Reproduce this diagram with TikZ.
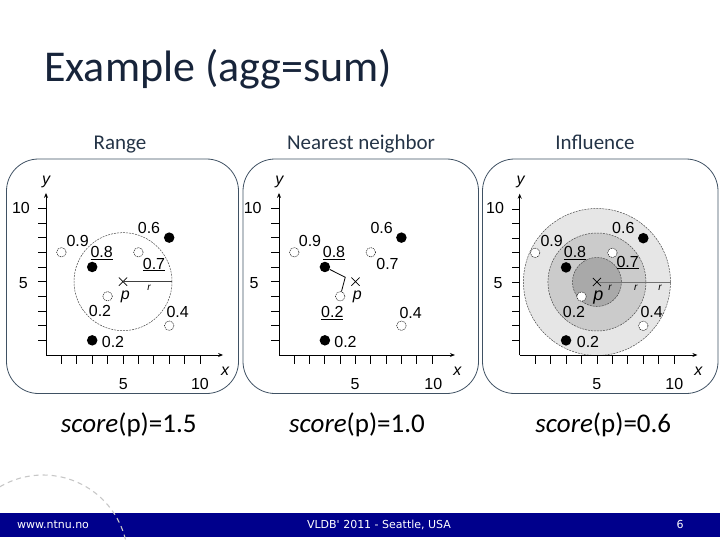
\documentclass[tikz,border=0pt]{standalone}
\usepackage{fontspec}
\setmainfont{Carlito}
\newfontfamily\arialf{Liberation Sans}
\newfontfamily\footf{DejaVu Sans}
\usetikzlibrary{arrows.meta,shapes.misc}
\definecolor{titlecol}{HTML}{17243A}
\definecolor{headcol}{HTML}{243447}
\definecolor{panelcol}{HTML}{3F5163}
\definecolor{barcol}{HTML}{00008C}
\definecolor{ringA}{HTML}{E6E6E6}
\definecolor{ringB}{HTML}{CBCBCB}
\definecolor{ringC}{HTML}{A9A9A9}
\newcommand{\drawplotaxes}{%
  \draw[axisln] (0,0) -- (11.5,0);
  \draw[axisln] (0,0) -- (0,11.05);
  \foreach \i in {1,...,10} {
    \draw[tickln] (\i,0) -- (\i,-0.62);
    \draw[tickln] (0,\i) -- (-0.52,\i);
  }}
\begin{document}
\begin{tikzpicture}[x=1pt,y=-1pt,
  panelbox/.style={draw=panelcol, line width=0.8pt, rounded corners=32pt},
  filleddot/.style={circle, fill=black, inner sep=0pt, minimum size=10.5pt},
  hollowdot/.style={circle, draw=black, fill=white, line width=0.45pt, dash pattern=on 1.2pt off 0.8pt, inner sep=0pt, minimum size=9.5pt},
  lab/.style={font=\arialf\fontsize{16}{18}\selectfont, inner sep=0pt, anchor=base},
  ilab/.style={font=\arialf\itshape\fontsize{16}{18}\selectfont, inner sep=0pt, anchor=base},
  rlab/.style={font=\arialf\itshape\fontsize{10}{11}\selectfont, inner sep=0pt, anchor=base},
  axisln/.style={line width=0.9pt, -{Stealth[length=5pt,width=4pt]}},
  tickln/.style={line width=0.9pt},
  pmark/.style={draw=black, cross out, line width=0.7pt, minimum size=7.5pt, inner sep=0pt},
  rangec/.style={draw=black!70, line width=0.5pt, dash pattern=on 2pt off 1pt},
  head/.style={font=\fontsize{21}{24}\selectfont, text=headcol, inner sep=0pt, anchor=base},
  score/.style={font=\fontsize{27}{30}\selectfont, text=black, inner sep=0pt, anchor=base},
  foot/.style={font=\footf\fontsize{11}{13}\selectfont, text=white, inner sep=0pt}]
\useasboundingbox (0,0) rectangle (720,540);

% title and headers
\node[font=\fontsize{44}{48}\selectfont, text=titlecol, inner sep=0pt, anchor=base west] (title) at (44,82) {Example (agg=sum)};
\node[head] (h1) at (120,149.5) {Range};
\node[head] (h2) at (361,149.5) {Nearest neighbor};
\node[head] (h3) at (595,149.5) {Influence};

% panels
\draw[panelbox] (6.5,159) rectangle (238.5,393.5);
\draw[panelbox] (243,159) rectangle (478.5,393.5);
\draw[panelbox] (482.5,159) rectangle (718,393.5);

% ---------- panel 1: Range ----------
\begin{scope}[shift={(46,355)}, x=15.4pt, y=14.67pt]
  \coordinate (c1) at (5,5);
  \draw[rangec] (c1) circle (49pt);
  \drawplotaxes
  \node[hollowdot] (a1) at (1,7) {};
  \node[hollowdot] (b1) at (6,7) {};
  \node[filleddot] (d1) at (3,6) {};
  \node[filleddot] (e1) at (8,8) {};
  \node[hollowdot] (f1) at (4,4) {};
  \node[hollowdot] (g1) at (8,2) {};
  \node[filleddot] (k1) at (3,1) {};
  \node[pmark] (p1) at (5,5) {};
  \path (c1) ++(49pt,0) coordinate (re1);
  \draw[black!75, line width=0.5pt] (c1) -- (re1);
\end{scope}
\node[lab] (l1a) at (77.7,246) {0.9};
\node[lab] (l1b) at (101.7,257.5) {\underline{0.8}};
\node[lab] (l1c) at (149,233.5) {0.6};
\node[lab] (l1d) at (154,269) {\underline{0.7}};
\node[ilab] (l1p) at (125.3,299) {p};
\node[lab] (l1e) at (100,316.5) {0.2};
\node[lab] (l1f) at (177.7,317) {0.4};
\node[lab] (l1g) at (113,347.5) {0.2};
\node[rlab] (l1r) at (149,290.5) {r};
\node[lab] (l1y10) at (21,214) {10};
\node[lab] (l1y5) at (23.3,288) {5};
\node[lab] (l1x5) at (123.3,389) {5};
\node[lab] (l1x10) at (200,389) {10};
\node[ilab] (l1y) at (46,185) {y};
\node[ilab] (l1x) at (225,375) {x};

% ---------- panel 2: Nearest neighbor ----------
\begin{scope}[shift={(279,355)}, x=15.3pt, y=14.67pt]
  \drawplotaxes
  \node[hollowdot] (a2) at (1,7) {};
  \node[hollowdot] (b2) at (6,7) {};
  \node[filleddot] (d2) at (3,6) {};
  \node[filleddot] (e2) at (8,8) {};
  \node[hollowdot] (f2) at (4,4) {};
  \node[hollowdot] (g2) at (8,2) {};
  \node[filleddot] (k2) at (3,1) {};
  \node[pmark] (p2) at (5,5) {};
  \coordinate (j2) at (4.33,5.3);
  \draw[line width=0.8pt] (d2) -- (j2) -- (f2);
\end{scope}
\node[lab] (l2a) at (310,246) {0.9};
\node[lab] (l2b) at (334,257.5) {\underline{0.8}};
\node[lab] (l2c) at (381.7,233.5) {0.6};
\node[lab] (l2d) at (387.5,269) {0.7};
\node[ilab] (l2p) at (357.3,299) {p};
\node[lab] (l2e) at (332.3,317.5) {\underline{0.2}};
\node[lab] (l2f) at (410.7,318) {0.4};
\node[lab] (l2g) at (345.5,347.5) {0.2};
\node[lab] (l2y10) at (252.7,214) {10};
\node[lab] (l2y5) at (254,288) {5};
\node[lab] (l2x5) at (355,389) {5};
\node[lab] (l2x10) at (433.3,389) {10};
\node[ilab] (l2y) at (279.3,185) {y};
\node[ilab] (l2x) at (457.3,375) {x};

% ---------- panel 3: Influence ----------
\begin{scope}[shift={(519.7,355)}, x=15.45pt, y=14.6pt]
  \coordinate (c3) at (5,5);
  \draw[rangec, fill=ringA] (c3) circle (73.5pt);
  \draw[rangec, fill=ringB] (c3) circle (49pt);
  \draw[rangec, fill=ringC] (c3) circle (24.5pt);
  \drawplotaxes
  \path (c3) ++(74pt,0) coordinate (re3);
  \draw[black!55, line width=0.6pt] (c3) -- (re3);
  \node[hollowdot] (a3) at (1,7) {};
  \node[hollowdot] (b3) at (6,7) {};
  \node[filleddot] (d3) at (3,6) {};
  \node[filleddot] (e3) at (8,8) {};
  \node[hollowdot] (f3) at (4,4) {};
  \node[hollowdot] (g3) at (8,2) {};
  \node[filleddot] (k3) at (3,1) {};
  \node[pmark] (p3) at (5,5) {};
\end{scope}
\node[lab] (l3a) at (551.7,246) {0.9};
\node[lab] (l3b) at (575,257.5) {\underline{0.8}};
\node[lab] (l3c) at (623.3,233.5) {0.6};
\node[lab] (l3d) at (627.7,267) {\underline{0.7}};
\node[ilab, font=\arialf\itshape\fontsize{18}{20}\selectfont] (l3p) at (598.3,300) {p};
\node[lab] (l3e) at (574,317.5) {0.2};
\node[lab] (l3f) at (651.7,317.5) {0.4};
\node[lab] (l3g) at (588,347) {0.2};
\node[rlab] (l3r1) at (610,290.5) {r};
\node[rlab] (l3r2) at (635.7,290.5) {r};
\node[rlab] (l3r3) at (660,290.5) {r};
\node[lab] (l3y10) at (495,214) {10};
\node[lab] (l3y5) at (498,288) {5};
\node[lab] (l3x5) at (596.7,389) {5};
\node[lab] (l3x10) at (674.3,389) {10};
\node[ilab] (l3y) at (520.7,185) {y};
\node[ilab] (l3x) at (698.3,375) {x};

% scores
\node[score] (s1) at (128.7,432) {\itshape score\upshape(p)=1.5};
\node[score] (s2) at (357,432) {\itshape score\upshape(p)=1.0};
\node[score] (s3) at (603.3,432) {\itshape score\upshape(p)=0.6};

% footer
\fill[barcol] (0,512.5) rectangle (720,536.5);
\begin{scope}
  \clip (0,0) rectangle (720,540);
  \draw[black!22, line width=1.1pt, dash pattern=on 5pt off 4pt] (43,560) ++(14:85pt) arc[start angle=14, end angle=125, radius=85pt];
\end{scope}
\node[foot] (f1) at (53,524.5) {www.ntnu.no};
\node[foot] (f2) at (379,524.5) {VLDB' 2011 - Seattle, USA};
\node[foot] (f3) at (680,524.5) {6};
\end{tikzpicture}
\end{document}
